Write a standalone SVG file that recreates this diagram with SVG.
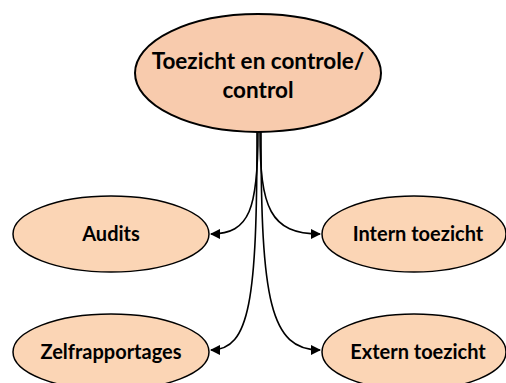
<svg xmlns="http://www.w3.org/2000/svg" width="506" height="383" viewBox="0 0 506 383">
<style>
.n{fill:#FBD5B5;stroke:#000;stroke-width:1.5}
.t{font-family:Lato,"Open Sans","Liberation Sans",sans-serif;font-weight:bold;fill:#000;text-anchor:middle}
.c{fill:none;stroke:#000;stroke-width:1.6}
</style>
<defs>
<marker id="a" viewBox="0 0 10 10" refX="9" refY="5" markerWidth="6.5" markerHeight="6.5" orient="auto" markerUnits="strokeWidth">
<path d="M0,0 L10,5 L0,10 z" fill="#000"/>
</marker>
</defs>
<rect width="506" height="383" fill="#fff"/>
<g id="connectors">
<path class="c" d="M258,132 C258,208 250,234 211,234" marker-end="url(#a)"/>
<path class="c" d="M260,132 C260,208 270,234 320,234" marker-end="url(#a)"/>
<path class="c" d="M257,132 C257,300 250,350 211,350" marker-end="url(#a)"/>
<path class="c" d="M261,132 C261,300 270,350 320,350" marker-end="url(#a)"/>
</g>
<g id="root">
<ellipse cx="258" cy="73" rx="123" ry="59" fill="#F8CBAD" stroke="#000" stroke-width="2"/>
<text class="t" x="258" y="69" font-size="22.5">Toezicht en controle/</text>
<text class="t" x="258" y="98" font-size="22.5">control</text>
</g>
<g id="audits">
<ellipse class="n" cx="111" cy="234" rx="98" ry="38"/>
<text class="t" x="111" y="241" font-size="20">Audits</text>
</g>
<g id="intern">
<ellipse class="n" cx="414" cy="234" rx="92" ry="38"/>
<text class="t" x="418" y="241" font-size="20">Intern toezicht</text>
</g>
<g id="zelf">
<ellipse class="n" cx="111" cy="352" rx="98" ry="38"/>
<text class="t" x="111" y="359" font-size="20">Zelfrapportages</text>
</g>
<g id="extern">
<ellipse class="n" cx="414" cy="352" rx="92" ry="38"/>
<text class="t" x="418" y="359" font-size="20">Extern toezicht</text>
</g>
</svg>
